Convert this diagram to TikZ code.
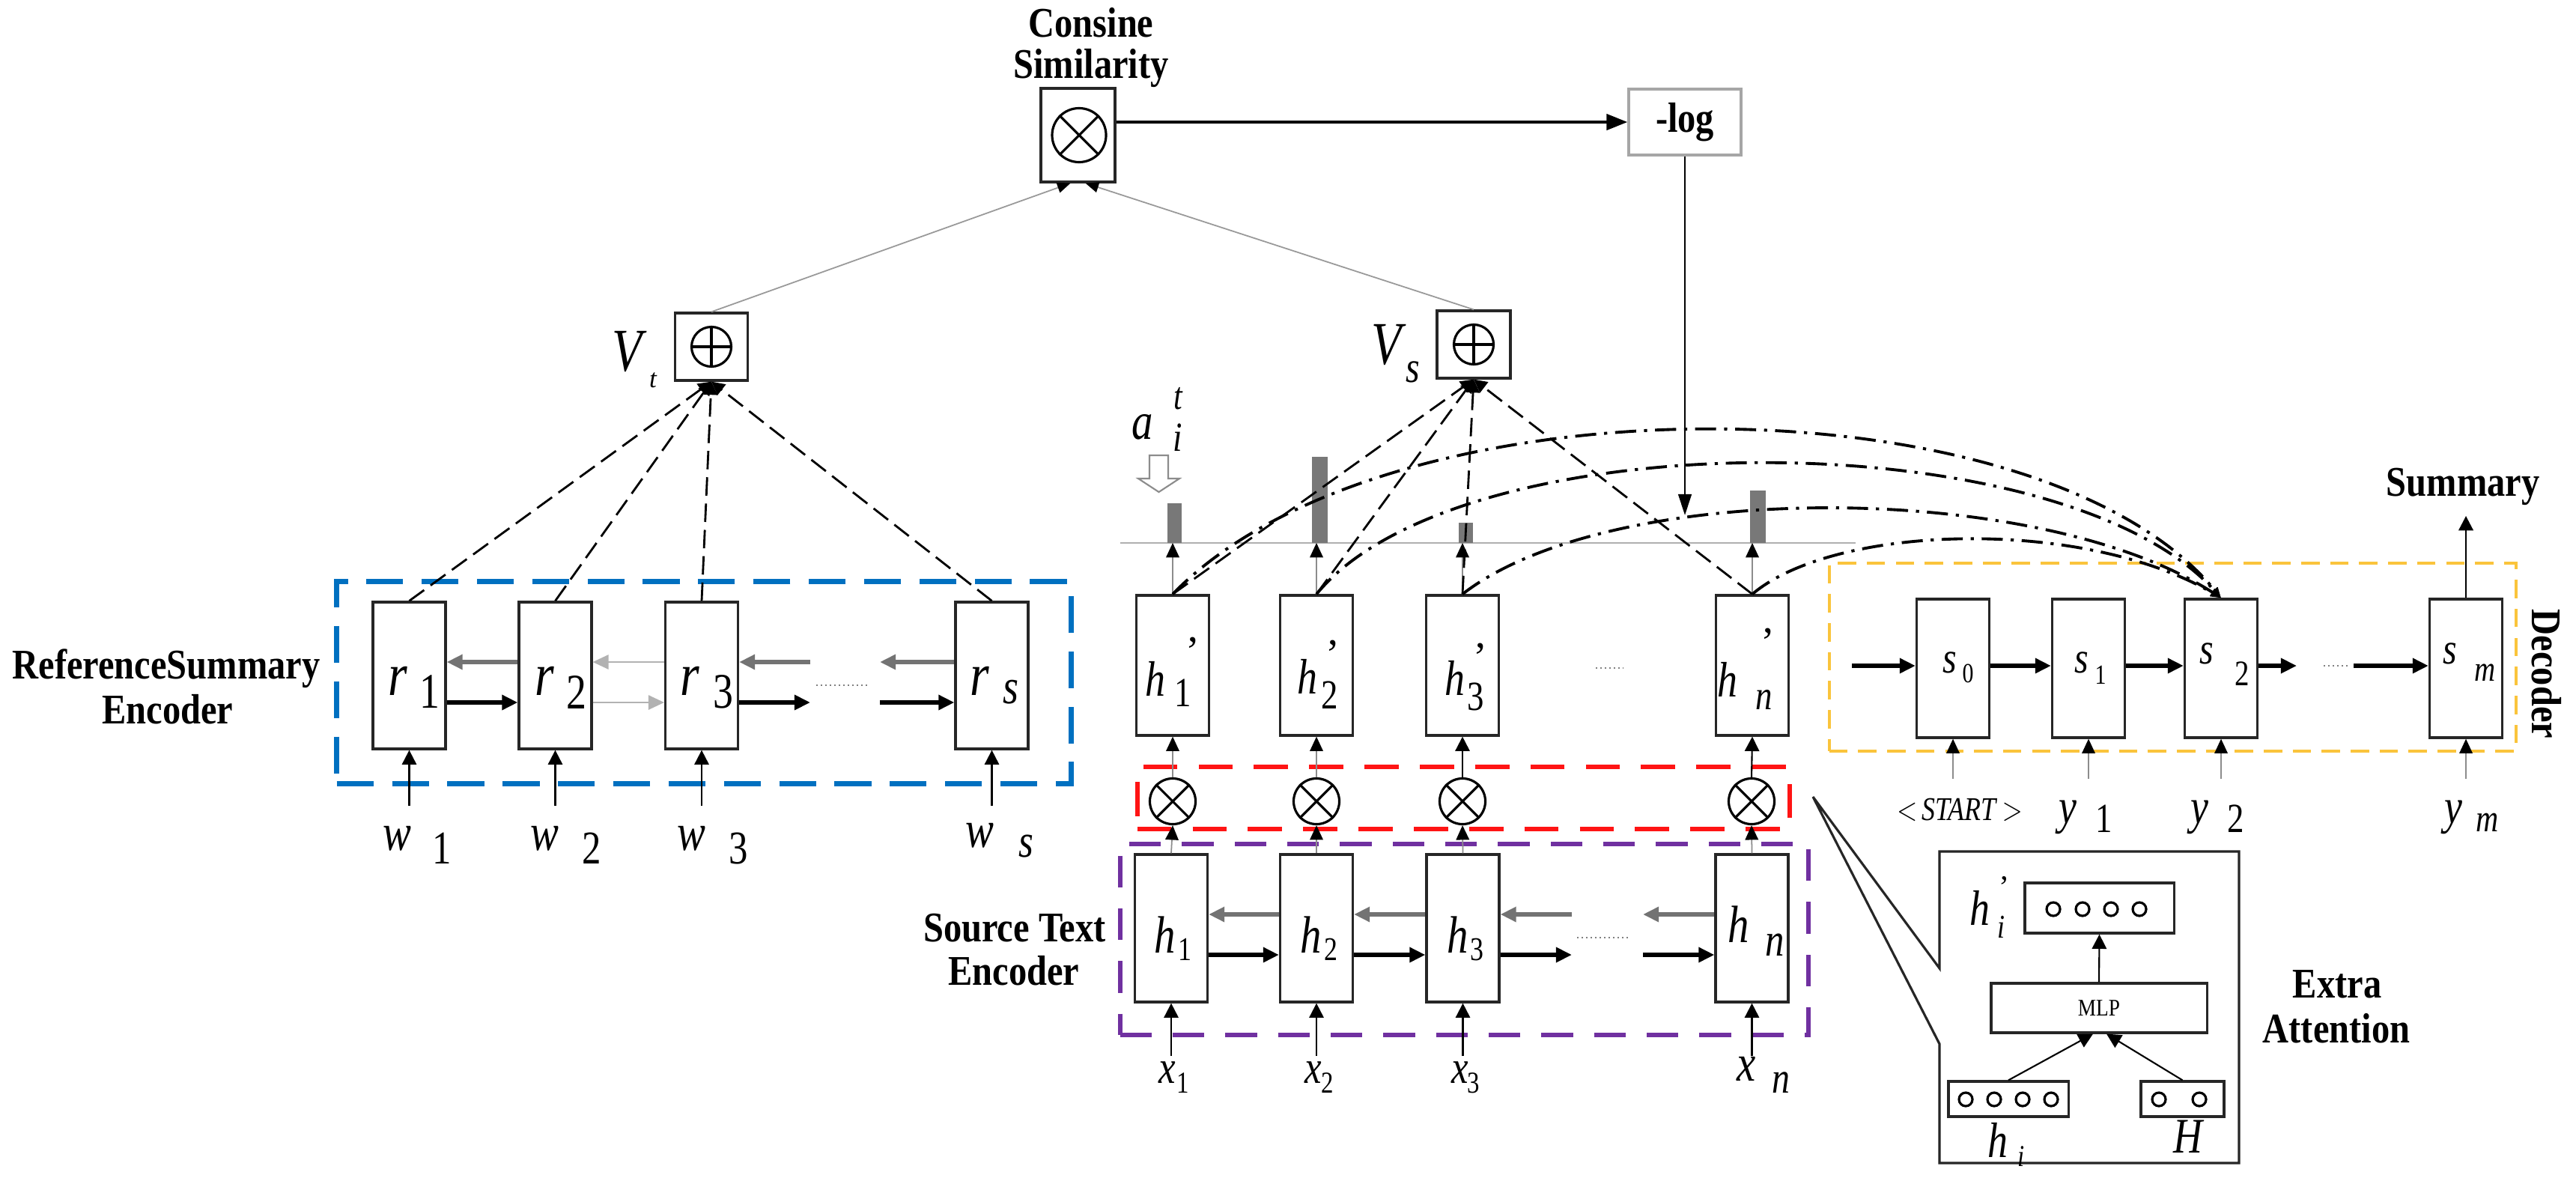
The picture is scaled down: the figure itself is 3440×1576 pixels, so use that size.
\documentclass[tikz,border=0pt]{standalone}
\usepackage{graphicx}
\usepackage{fontspec}
\setmainfont{Liberation Serif}
\usetikzlibrary{arrows.meta}
\definecolor{cblue}{RGB}{0,112,192}
\definecolor{cred}{RGB}{255,20,20}
\definecolor{cpurple}{RGB}{112,48,160}
\definecolor{cyellow}{RGB}{250,196,60}
\definecolor{cbar}{RGB}{120,120,120}
\definecolor{cline}{RGB}{175,175,175}
\newcommand\fs[1]{\fontsize{#1}{#1}\selectfont}
\newcommand\tall[1]{\scalebox{0.97}[1.13]{#1}}
\newcommand\cnd[1]{\scalebox{0.85}[1.05]{#1}}
\begin{document}
\begin{tikzpicture}[x=0.01cm,y=-0.01cm,
  cell/.style={draw=black!85,line width=0.9pt,fill=white,minimum width=0.97cm,inner sep=0pt},
  opbox/.style={draw=black!85,line width=0.9pt,fill=white,inner sep=0pt},
  boldlab/.style={font=\fs{14.2}\bfseries,inner sep=0pt,anchor=base},
  lab/.style={inner sep=0pt},
  Li/.style={lab,font=\fs{#1}\itshape},
  Lu/.style={lab,font=\fs{#1}},
  dbox/.style={draw=#1,line width=2pt,dash pattern=on 14pt off 7pt,inner sep=0pt},
  harr/.style={line width=1.5pt,-{Triangle[length=6pt,width=5.5pt]}},
  garr/.style={line width=1.5pt,draw=black!55,-{Triangle[length=6pt,width=5.5pt]}},
  larr/.style={line width=0.6pt,draw=black!30,-{Triangle[length=6pt,width=5.5pt]}},
  inarr/.style={line width=0.6pt,-{Triangle[length=5.5pt,width=5.5pt]}},
  ginarr/.style={line width=0.5pt,draw=black!45,-{Triangle[length=5.5pt,width=5pt,color=black]}},
  vdash/.style={line width=0.8pt,dash pattern=on 7pt off 3pt,-{Triangle[length=5pt,width=5pt]}},
  ddot/.style={line width=1.1pt,dash pattern=on 8pt off 3pt on 1.2pt off 3pt,-{Triangle[length=4pt,width=3pt]}},
  dotsl/.style={line width=0.6pt,draw=black!50,dash pattern=on 0.5pt off 1.2pt},
  ocirc/.style={circle,draw,line width=0.9pt,minimum size=#1,inner sep=0pt,fill=white},
]
\fill[white] (0,0) rectangle (3440,1576);
\useasboundingbox (0,0) rectangle (3440,1576);

% ---------------- top: cosine similarity and -log
\node[boldlab] (cs1) at (1457,50) {\tall{Consine}};
\node[boldlab] (cs2) at (1457,105) {\tall{Similarity}};
\node[opbox,minimum width=0.99cm,minimum height=1.25cm] (cos) at (1439.5,180.5) {};
\node[ocirc=0.72cm] (cosc) at (1441,180.5) {};
\draw[line width=0.9pt] (cosc.north west) -- (cosc.south east) (cosc.north east) -- (cosc.south west);
\node[opbox,draw=black!35,minimum width=1.5cm,minimum height=0.88cm,font=\fs{14.2}\bfseries] (log) at (2250,163) {\tall{-log}};
\draw[line width=1.2pt,-{Triangle[length=8pt,width=6pt]}] (cos.east|-log) -- (log.west);
\coordinate (logend) at (2250,688);
\draw[line width=0.8pt,-{Triangle[length=8pt,width=5pt]}] (log.south) -- (logend);

% ---------------- V_t and V_s
\node[opbox,minimum width=0.97cm,minimum height=0.9cm] (vt) at (950,463) {};
\node[ocirc=0.53cm] (vtc) at (vt) {};
\draw[line width=0.9pt] (vtc.north) -- (vtc.south) (vtc.west) -- (vtc.east);
\node[Li=22] (vtl) at (838,470) {\cnd{V}};
\node[Li=10] (vtls) at (872,508) {t};
\node[opbox,minimum width=0.98cm,minimum height=0.9cm] (vs) at (1968,460) {};
\node[ocirc=0.53cm] (vsc) at (vs) {};
\draw[line width=0.9pt] (vsc.north) -- (vsc.south) (vsc.west) -- (vsc.east);
\node[Li=22] (vsl) at (1852,461) {\cnd{V}};
\node[Li=16] (vsls) at (1887,497) {\cnd{s}};
\draw[line width=0.5pt,draw=black!40,-{Triangle[length=5pt,width=4pt,color=black]}] (vt.north) -- ([xshift=-0.1cm]cos.south);
\draw[line width=0.5pt,draw=black!40,-{Triangle[length=5pt,width=4pt,color=black]}] (vs.north) -- ([xshift=0.1cm]cos.south);

% ---------------- dashed group boxes
\node[dbox=cblue,minimum width=9.8cm,minimum height=2.69cm] (rbox) at (940,911.5) {};
\node[dbox=cred,line width=1.6pt,dash pattern=on 13pt off 8pt,minimum width=8.71cm,minimum height=0.83cm] (redbox) at (1954.5,1065.5) {};
\node[dbox=cpurple,line width=1.6pt,dash pattern=on 12pt off 8pt,minimum width=9.19cm,minimum height=2.55cm] (pbox) at (1955.5,1254.5) {};
\node[dbox=cyellow,line width=1.2pt,dash pattern=on 7pt off 4pt,minimum width=9.17cm,minimum height=2.51cm] (ybox) at (2901.5,877.5) {};

% ---------------- reference summary encoder
\node[boldlab] (rsl1) at (222,906) {\tall{ReferenceSummary}};
\node[boldlab] (rsl2) at (224,966) {\tall{Encoder}};
\foreach \n/\x in {r1/546.5,r2/741.5,r3/937,rs/1324.5}
  \node[cell,minimum height=1.96cm] (\n) at (\x,902) {};
\node[Li=22] (r1a) at (531,909) {\cnd{r}}; \node[Lu=18] (r1b) at (574,924) {\cnd{1}};
\node[Li=22] (r2a) at (727,909) {\cnd{r}}; \node[Lu=18] (r2b) at (770,924) {\cnd{2}};
\node[Li=22] (r3a) at (921,909) {\cnd{r}}; \node[Lu=18] (r3b) at (966,924) {\cnd{3}};
\node[Li=22] (rsa) at (1308,909) {\cnd{r}}; \node[Li=18] (rsb) at (1350,924) {\cnd{s}};
\coordinate (rR) at (0,938); \coordinate (rL) at (0,884);
\draw[harr] (r1.east|-rR) -- (r2.west|-rR);
\draw[garr] (r2.west|-rL) -- (r1.east|-rL);
\draw[larr] (r2.east|-rR) -- (r3.west|-rR);
\draw[larr] (r3.west|-rL) -- (r2.east|-rL);
\coordinate (r3o) at (1082,938); \coordinate (r3i) at (1082,884);
\draw[harr] (r3.east|-rR) -- (r3o);
\draw[garr] (r3i) -- (r3.east|-rL);
\coordinate (rso) at (1175,938); \coordinate (rsi) at (1175,884);
\draw[harr] (rso) -- (rs.west|-rR);
\draw[garr] (rs.west|-rL) -- (rsi);
\draw[dotsl] (1090,915) -- (1160,915);
\foreach \n in {r1,r2,r3,rs} \draw[vdash] (\n.north) -- (vt.south);
% inputs w
\node[Li=19] (w1a) at (530,1120) {\cnd{w}}; \node[Lu=17] (w1b) at (590,1133) {\cnd{1}};
\node[Li=19] (w2a) at (727,1120) {\cnd{w}}; \node[Lu=17] (w2b) at (790,1133) {\cnd{2}};
\node[Li=19] (w3a) at (923,1120) {\cnd{w}}; \node[Lu=17] (w3b) at (986,1133) {\cnd{3}};
\node[Li=19] (wsa) at (1308,1116) {\cnd{w}}; \node[Li=17] (wsb) at (1370,1130) {\cnd{s}};
\foreach \n in {r1,r2,r3,rs} {
  \coordinate (\n in) at (\n.south|-0,1076);
  \draw[inarr] (\n in) -- (\n.south);
}

% ---------------- source text encoder
\node[boldlab] (stl1) at (1355,1257) {\tall{Source Text}};
\node[boldlab] (stl2) at (1354,1315) {\tall{Encoder}};
\foreach \n/\x in {h1/1564,h2/1758,h3/1953.5,hn/2339.5}
  \node[cell,minimum height=1.97cm] (\n) at (\x,1239.5) {};
\node[Li=19] (h1a) at (1556,1248) {\cnd{h}}; \node[Lu=12] (h1b) at (1582,1268) {\cnd{1}};
\node[Li=19] (h2a) at (1751,1248) {\cnd{h}}; \node[Lu=12] (h2b) at (1777,1268) {\cnd{2}};
\node[Li=19] (h3a) at (1947,1248) {\cnd{h}}; \node[Lu=12] (h3b) at (1972,1268) {\cnd{3}};
\node[Li=19] (hna) at (2322,1234) {\cnd{h}}; \node[Li=17] (hnb) at (2370,1262) {\cnd{n}};
\coordinate (hR) at (0,1275); \coordinate (hL) at (0,1221);
\draw[harr] (h1.east|-hR) -- (h2.west|-hR);
\draw[garr] (h2.west|-hL) -- (h1.east|-hL);
\draw[harr] (h2.east|-hR) -- (h3.west|-hR);
\draw[garr] (h3.west|-hL) -- (h2.east|-hL);
\coordinate (h3o) at (2099,1275); \coordinate (h3i) at (2099,1221);
\draw[harr] (h3.east|-hR) -- (h3o);
\draw[garr] (h3i) -- (h3.east|-hL);
\coordinate (hno) at (2194,1275); \coordinate (hni) at (2194,1221);
\draw[harr] (hno) -- (hn.west|-hR);
\draw[garr] (hn.west|-hL) -- (hni);
\draw[dotsl] (2106,1252) -- (2176,1252);
\node[Li=17] (x1a) at (1559,1432) {\cnd{x}}; \node[Lu=11] (x1b) at (1580,1446) {\cnd{1}};
\node[Li=17] (x2a) at (1754,1432) {\cnd{x}}; \node[Lu=11] (x2b) at (1773,1446) {\cnd{2}};
\node[Li=17] (x3a) at (1950,1432) {\cnd{x}}; \node[Lu=11] (x3b) at (1968,1446) {\cnd{3}};
\node[Li=19] (xna) at (2332,1427) {\cnd{x}}; \node[Li=16] (xnb) at (2378,1446) {\cnd{n}};
\foreach \n in {h1,h2,h3,hn} {
  \coordinate (\n in) at (\n.south|-0,1410);
  \draw[inarr] (\n in) -- (\n.south);
}

% ---------------- products
\foreach \n/\x in {m1/1566,m2/1758,m3/1953,mn/2339} {
  \node[ocirc=0.61cm] (\n) at (\x,1070) {};
  \draw[line width=0.9pt] (\n.north west) -- (\n.south east) (\n.north east) -- (\n.south west);
}
\draw[ginarr] (h1.north) -- (m1.south);
\draw[ginarr] (h2.north) -- (m2.south);
\draw[ginarr] (h3.north) -- (m3.south);
\draw[ginarr] (hn.north) -- (mn.south);

% ---------------- h' cells
\foreach \n/\x in {hp1/1566,hp2/1758,hp3/1953,hpn/2340}
  \node[cell,minimum height=1.87cm] (\n) at (\x,888.5) {};
\node[Li=18] (hp1a) at (1543,906) {\cnd{h}}; \node[Lu=15] (hp1b) at (1580,925) {\cnd{1}}; \node[Lu=16] (hp1c) at (1593,870) {'};
\node[Li=18] (hp2a) at (1746,903) {\cnd{h}}; \node[Lu=15] (hp2b) at (1776,928) {\cnd{2}}; \node[Lu=16] (hp2c) at (1780,874) {'};
\node[Li=18] (hp3a) at (1943,905) {\cnd{h}}; \node[Lu=15] (hp3b) at (1971,930) {\cnd{3}}; \node[Lu=16] (hp3c) at (1977,878) {'};
\node[Li=18] (hpna) at (2307,907) {\cnd{h}}; \node[Li=15] (hpnb) at (2356,934) {\cnd{n}}; \node[Lu=16] (hpnc) at (2361,858) {'};
\draw[ginarr] (m1.north) -- (hp1.south);
\draw[ginarr] (m2.north) -- (hp2.south);
\draw[inarr] (m3.north) -- (hp3.south);
\draw[inarr] (mn.north) -- (hpn.south);
\draw[dotsl] (2131,892) -- (2167,892);

% attention weights
\draw[cline,line width=0.8pt] (1496,725) -- (2478,725);
\fill[cbar] (1559,672) rectangle (1578,725);
\fill[cbar] (1752,610) rectangle (1773,725);
\fill[cbar] (1948,698) rectangle (1967,725);
\fill[cbar] (2337,655) rectangle (2358,725);
\coordinate (wl) at (0,725);
\foreach \n in {hp1,hp2,hp3,hpn} \draw[ginarr] (\n.north) -- (\n.north|-wl);
\draw[draw=black!45,fill=white,line width=0.6pt] (1535,608) -- (1560,608) -- (1560,639) -- (1575,639) -- (1547.5,657) -- (1520,639) -- (1535,639) -- cycle;
\node[Li=19] (al) at (1526,570) {\cnd{a}};
\node[Li=14] (alt) at (1573,532) {\cnd{t}};
\node[Li=15] (ali) at (1573,584) {\cnd{i}};
\foreach \n in {hp1,hp2,hp3,hpn} \draw[vdash] (\n.north) -- (vs.south);

% ---------------- decoder
\foreach \n/\x in {s0/2608,s1/2789,s2/2966,sm/3293}
  \node[cell,minimum height=1.85cm] (\n) at (\x,892.5) {};
\node[Li=16] (s0a) at (2604,885) {\cnd{s}}; \node[Lu=10] (s0b) at (2628,899) {\cnd{0}};
\node[Li=16] (s1a) at (2780,885) {\cnd{s}}; \node[Lu=10] (s1b) at (2805,901) {\cnd{1}};
\node[Li=16] (s2a) at (2947,873) {\cnd{s}}; \node[Lu=13] (s2b) at (2994,900) {\cnd{2}};
\node[Li=16] (sma) at (3272,873) {\cnd{s}}; \node[Li=13] (smb) at (3318,898) {\cnd{m}};
\coordinate (sY) at (0,889);
\coordinate (sin) at (2473,889);
\draw[harr] (sin) -- (s0.west|-sY);
\draw[harr] (s0.east|-sY) -- (s1.west|-sY);
\draw[harr] (s1.east|-sY) -- (s2.west|-sY);
\coordinate (s2o) at (3067,889);
\draw[harr] (s2.east|-sY) -- (s2o);
\coordinate (smi) at (3143,889);
\draw[harr] (smi) -- (sm.west|-sY);
\draw[dotsl] (3103,889) -- (3138,889);
\node[boldlab] (sum) at (3289,662) {\tall{Summary}};
\coordinate (sumin) at (3293,689);
\draw[inarr,line width=0.8pt] (sm.north) -- (sumin);
\node[font=\fs{14.2}\bfseries,rotate=-90,inner sep=0pt] (dec) at (3401,900) {\tall{Decoder}};
\node[Lu=12] (st) at (2617,1081) {\cnd{$<$\,\textit{START}\,$>$}};
\node[Li=18] (y1a) at (2761,1091) {\cnd{y}}; \node[Lu=15] (y1b) at (2810,1093) {\cnd{1}};
\node[Li=18] (y2a) at (2937,1091) {\cnd{y}}; \node[Lu=15] (y2b) at (2986,1093) {\cnd{2}};
\node[Li=18] (yma) at (3276,1091) {\cnd{y}}; \node[Li=14] (ymb) at (3322,1098) {\cnd{m}};
\foreach \n in {s0,s1,s2,sm} {
  \coordinate (\n in) at (\n.south|-0,1040);
  \draw[ginarr] (\n in) -- (\n.south);
}
% attention curves to decoder
\draw[ddot] (hp1.north) .. controls (1850,500) and (2720,500) .. (s2.north);
\draw[ddot] (hp2.north) .. controls (1950,560) and (2750,560) .. (s2.north);
\draw[ddot] (hp3.north) .. controls (2150,640) and (2720,640) .. (s2.north);
\draw[ddot] (hpn.north) .. controls (2450,700) and (2780,690) .. (s2.north);

% ---------------- extra attention callout
\coordinate (ctip) at (2421,1064);
\draw[line width=0.9pt,draw=black!85] (2590,1137) -- (2990,1137) -- (2990,1553) -- (2590,1553) -- (2590,1394) -- (ctip) -- (2590,1293) -- cycle;
\node[opbox,minimum width=1.99cm,minimum height=0.67cm] (hpi) at (2803.5,1212.5) {};
\node[opbox,minimum width=2.88cm,minimum height=0.66cm,font=\fs{8}] (mlp) at (2803,1346) {\tall{MLP}};
\node[opbox,minimum width=1.6cm,minimum height=0.47cm] (hib) at (2682,1467.5) {};
\node[opbox,minimum width=1.11cm,minimum height=0.47cm] (Hb) at (2914.5,1467.5) {};
\foreach \x in {2742,2781,2819,2857} \draw[line width=0.9pt] (\x,1214) circle (0.09cm);
\foreach \x in {2625,2663,2701,2739} \draw[line width=0.9pt] (\x,1468) circle (0.09cm);
\foreach \x in {2883,2937} \draw[line width=0.9pt] (\x,1468) circle (0.09cm);
\draw[inarr] (mlp.north) -- (hpi.south);
\draw[inarr] (hib.north) -- ([xshift=-0.08cm]mlp.south);
\draw[inarr] (Hb.north) -- ([xshift=0.1cm]mlp.south);
\node[Li=18] (hpil) at (2644,1212) {\cnd{h}};
\node[Lu=12] (hpip) at (2676,1184) {'};
\node[Li=12] (hpii) at (2672,1238) {\cnd{i}};
\node[Li=18] (hil) at (2668,1522) {\cnd{h}};
\node[Li=11] (hii) at (2699,1544) {\cnd{i}};
\node[Li=18] (Hl) at (2922,1518) {\cnd{H}};
\node[boldlab] (ea1) at (3121,1332) {\tall{Extra}};
\node[boldlab] (ea2) at (3120,1392) {\tall{Attention}};
\end{tikzpicture}
\end{document}
